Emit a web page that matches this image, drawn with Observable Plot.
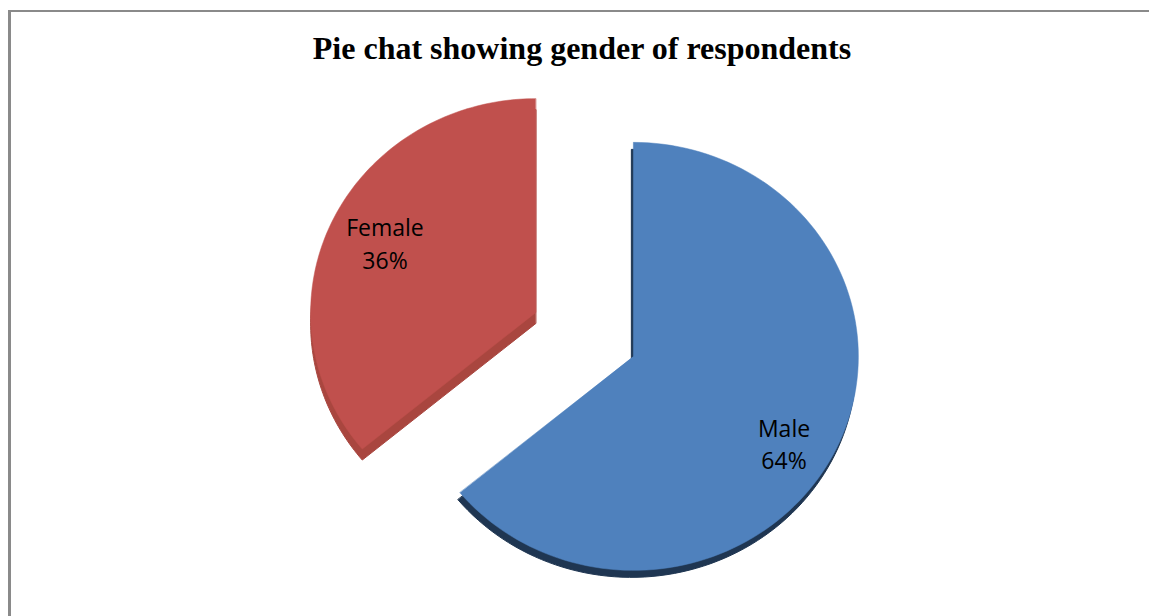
<!DOCTYPE html>
<html>
<head>
<meta charset="utf-8">
<script src="https://cdn.jsdelivr.net/npm/d3@7"></script>
<script src="https://cdn.jsdelivr.net/npm/@observablehq/plot@0.6"></script>
<style>
  html, body { margin: 0; padding: 0; background: #fff; overflow: hidden; }
  #frame { position: absolute; left: 8px; top: 10px; width: 1300px; height: 800px;
           border-left: 3px solid #8a8a8a; border-top: 2px solid #8a8a8a; box-sizing: border-box; }
  #title { position: absolute; left: 10px; width: 1144px; top: 31px; text-align: center;
           font: bold 32px "Liberation Serif", "Times New Roman", serif; line-height: 34px; color: #000; }
  #chart { position: absolute; left: 0; top: 80px; }
</style>
</head>
<body>
<div id="frame"></div>
<div id="title">Pie chat showing gender of respondents</div>
<div id="chart"></div>
<script>
// ---- data ----
const categories = ["Male", "Female"];
const shares = [64, 36];
const percentLabels = ["64%", "36%"];
const topColors = ["#4f81bd", "#c0504d"];
const sideColors = ["#1f3652", "#a9463f"];

// ---- layout constants ----
const explode = 0.24;     // explosion distance, in radius units
const labelRadius = 0.74; // label distance from slice center, in radius units
const steps = 120;

const arcs = d3.pie().sort(null).value(d => d)(shares);

const slices = arcs.map((a, i) => {
  const mid = (a.startAngle + a.endAngle) / 2;
  return {
    name: categories[i],
    label: categories[i] + "\n" + percentLabels[i],
    start: a.startAngle, end: a.endAngle, mid,
    ex: explode * Math.sin(mid), ey: -explode * Math.cos(mid)
  };
});

// polygon vertices built from slice angles
const poly = [];
slices.forEach((s, i) => {
  poly.push({ name: s.name, x: s.ex, y: s.ey });
  for (let k = 0; k <= steps; k++) {
    const t = s.start + (s.end - s.start) * k / steps;
    poly.push({ name: s.name, x: s.ex + Math.sin(t), y: s.ey - Math.cos(t) });
  }
});

const labels = slices.map(s => ({
  name: s.name, label: s.label,
  x: s.ex + labelRadius * Math.sin(s.mid),
  y: s.ey - labelRadius * Math.cos(s.mid)
}));

const sideOf = n => sideColors[categories.indexOf(n)];

const chart = Plot.plot({
  width: 1149,
  height: 536,
  margin: 0,
  x: { domain: [-1, 1], range: [359, 809], axis: null },
  y: { domain: [-1, 1], range: [40, 468], axis: null },
  marks: [
    // side (depth) faces
    Plot.line(poly.filter(d => d.name === "Male"), {
      x: "x", y: "y", z: "name", curve: "linear-closed",
      fill: sideOf("Male"), stroke: sideOf("Male"), strokeWidth: 1, dx: -2, dy: 7
    }),
    Plot.line(poly.filter(d => d.name === "Female"), {
      x: "x", y: "y", z: "name", curve: "linear-closed",
      fill: sideOf("Female"), stroke: sideOf("Female"), strokeWidth: 1, dy: 11
    }),
    // top faces
    Plot.line(poly, {
      x: "x", y: "y", z: "name", curve: "linear-closed",
      fill: d => topColors[categories.indexOf(d.name)],
      stroke: d => topColors[categories.indexOf(d.name)], strokeWidth: 0.5
    }),
    Plot.text(labels.filter(d => d.name === "Male"), {
      x: "x", y: "y", text: "label", fontSize: 23, fontFamily: "Open Sans",
      lineHeight: 1.4, fill: "#000", dy: 19
    }),
    Plot.text(labels.filter(d => d.name === "Female"), {
      x: "x", y: "y", text: "label", fontSize: 23, fontFamily: "Open Sans",
      lineHeight: 1.4, fill: "#000", dy: -3
    })
  ]
});
document.getElementById("chart").appendChild(chart);
</script>
</body>
</html>
